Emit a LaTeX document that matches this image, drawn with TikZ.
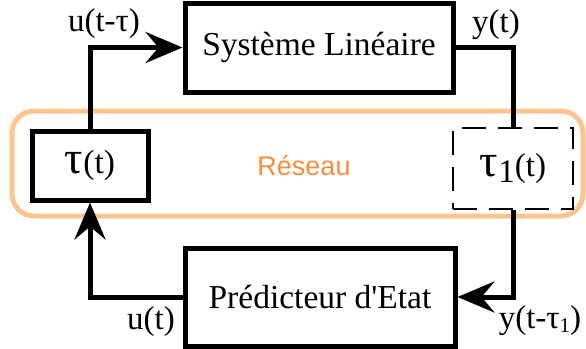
\documentclass[tikz,border=0pt]{standalone}
\usepackage{fontspec}
\setmainfont{Liberation Serif}[Ligatures=TeXOff]
\newfontfamily\netfont{Liberation Sans}
\usetikzlibrary{arrows.meta}
\definecolor{netline}{RGB}{252,196,142}
\definecolor{nettext}{RGB}{250,140,60}
\newcommand{\bigtau}{{\fontsize{46}{46}\selectfont τ}}

\begin{document}
\begin{tikzpicture}[x=1pt,y=-1pt,
  block/.style={draw,line width=5pt,fill=white,inner sep=0pt,font=\fontsize{33.5}{36}\selectfont},
  link/.style={line width=5pt},
  tip/.style={-{Stealth[length=37pt,width=31pt,inset=13pt]}},
  lbl/.style={font=\fontsize{33}{36}\selectfont,inner sep=0pt}]
\useasboundingbox (0,0) rectangle (586,348);

\draw[netline,line width=5pt,rounded corners=22pt] (12,111) rectangle (583,216);
\node[nettext,font=\netfont\fontsize{27}{30}\selectfont] (net) at (304,166) {Réseau};

\node[block,minimum width=268pt,minimum height=89pt] (sys) at (319,47.5) {Système Linéaire};
\node[block,minimum width=270pt,minimum height=98pt] (pred) at (320,297) {Prédicteur d'Etat};
\node[block,minimum width=116pt,minimum height=69pt] (tau) at (90,165.5) {\bigtau(t)};
\node[draw,line width=1.3pt,dash pattern=on 24pt off 12pt,minimum width=120pt,minimum height=81pt,
  inner sep=0pt,font=\fontsize{33}{36}\selectfont] (tauone) at (513,168.5) {\bigtau\raisebox{-6pt}{1}(t)};

\draw[link,tip] (tau.north) |- (sys.west);
\draw[link] (sys.east) -| (tauone.north);
\draw[link,tip] (tauone.south) |- (pred.east);
\draw[link,tip] (pred.west) -| (tau.south);

\node[lbl] (ulag) at (104,24) {u(t-τ)};
\node[lbl] (yout) at (496,25) {y(t)};
\node[lbl] (uin) at (151,322) {u(t)};
\node[lbl] (ylag) at (540,321) {y(t-τ\raisebox{-4pt}{\fontsize{21}{21}\selectfont 1})};

\end{tikzpicture}
\end{document}
